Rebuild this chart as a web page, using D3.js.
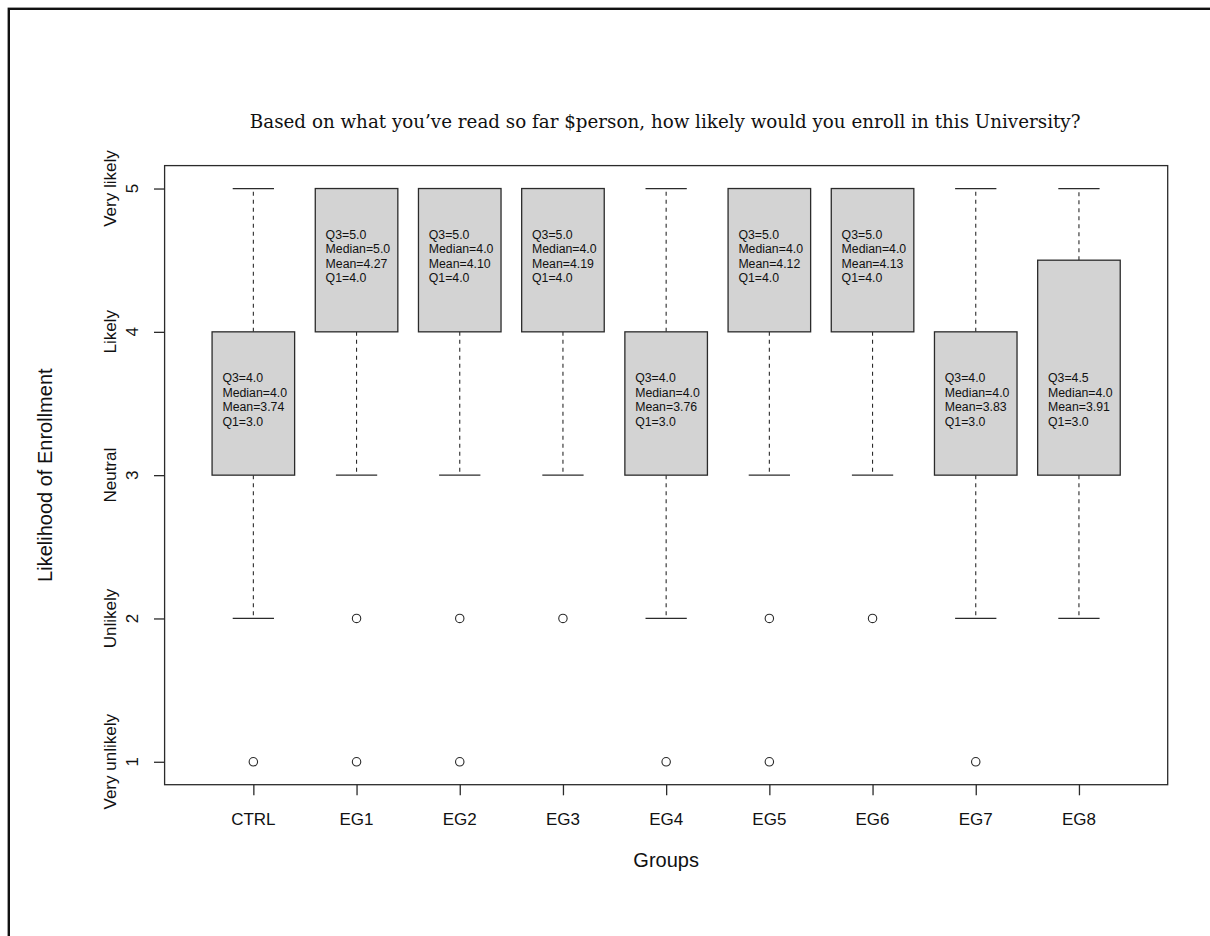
<!DOCTYPE html>
<html>
<head>
<meta charset="utf-8">
<script src="https://cdn.jsdelivr.net/npm/d3@7"></script>
<style>
  html, body { margin: 0; padding: 0; background: #fff; }
  svg { display: block; }
  .sans { font-family: "Liberation Sans", Arial, Helvetica, sans-serif; fill: #111; }
</style>
</head>
<body>
<svg id="chart" width="1210" height="936"></svg>
<script>
// Enrollment likelihood by group: five-number summaries, means and outliers
const groups       = ["CTRL", "EG1", "EG2", "EG3", "EG4", "EG5", "EG6", "EG7", "EG8"];
const whiskerLow   = [2, 3, 3, 3, 2, 3, 3, 2, 2];
const q1           = [3, 4, 4, 4, 3, 4, 4, 3, 3];
const medians      = [4, 5, 4, 4, 4, 4, 4, 4, 4];
const q3           = [4, 5, 5, 5, 4, 5, 5, 4, 4.5];
const whiskerHigh  = [5, 5, 5, 5, 5, 5, 5, 5, 5];
const means        = [3.74, 4.27, 4.10, 4.19, 3.76, 4.12, 4.13, 3.83, 3.91];
const outliers     = [[1], [2, 1], [2, 1], [2], [1], [2, 1], [2], [1], []];

const yTickValues  = [1, 2, 3, 4, 5];
const yTickNames   = ["Very unlikely", "Unlikely", "Neutral", "Likely", "Very likely"];

const titleText = "Based on what you\u2019ve read so far $person, how likely would you enroll in this University?";
const xTitle = "Groups";
const yTitle = "Likelihood of Enrollment";

const svg = d3.select("#chart");

// Plot region (box-plot style limits padded by 4%)
const plot = { left: 164.6, right: 1167.7, top: 165.6, bottom: 784.7 };
const n = groups.length;
const xPad = (n + 0.5 - 0.5) * 0.04;
const x = d3.scaleLinear()
  .domain([0.5 - xPad, n + 0.5 + xPad])
  .range([plot.left, plot.right]);
const y = d3.scaleLinear()
  .domain([1 - 0.16, 5 + 0.16])
  .range([plot.bottom, plot.top]);

const unit = x(2) - x(1);
const boxHalf = unit * 0.4;
const stapleHalf = boxHalf * 0.5;
const lineColor = "#2b2b2b";

// Outer frame of the figure
svg.append("rect")
  .attr("x", 8.8).attr("y", 8.8)
  .attr("width", 1400).attr("height", 1200)
  .attr("fill", "none").attr("stroke", "#111").attr("stroke-width", 2.4);

const data = groups.map((g, i) => ({
  name: g, pos: i + 1,
  lo: whiskerLow[i], q1: q1[i], med: medians[i], q3: q3[i], hi: whiskerHigh[i],
  mean: means[i], out: outliers[i]
}));

const g = svg.append("g");

// Whiskers (dashed) and staples
const wg = g.selectAll("g.whisk").data(data).enter().append("g").attr("class", "whisk");
wg.append("line")
  .attr("x1", d => x(d.pos)).attr("x2", d => x(d.pos))
  .attr("y1", d => y(d.q3)).attr("y2", d => y(d.hi))
  .attr("stroke", lineColor).attr("stroke-width", 1.1).attr("stroke-dasharray", "4,4");
wg.append("line")
  .attr("x1", d => x(d.pos)).attr("x2", d => x(d.pos))
  .attr("y1", d => y(d.q1)).attr("y2", d => y(d.lo))
  .attr("stroke", lineColor).attr("stroke-width", 1.1).attr("stroke-dasharray", "4,4");
wg.append("line")
  .attr("x1", d => x(d.pos) - stapleHalf).attr("x2", d => x(d.pos) + stapleHalf)
  .attr("y1", d => y(d.hi)).attr("y2", d => y(d.hi))
  .attr("stroke", lineColor).attr("stroke-width", 1.3);
wg.append("line")
  .attr("x1", d => x(d.pos) - stapleHalf).attr("x2", d => x(d.pos) + stapleHalf)
  .attr("y1", d => y(d.lo)).attr("y2", d => y(d.lo))
  .attr("stroke", lineColor).attr("stroke-width", 1.3);

// Boxes (Q1 to Q3)
g.selectAll("rect.box").data(data).enter().append("rect")
  .attr("class", "box")
  .attr("x", d => x(d.pos) - boxHalf)
  .attr("width", boxHalf * 2)
  .attr("y", d => y(d.q3))
  .attr("height", d => y(d.q1) - y(d.q3))
  .attr("fill", "#d3d3d3")
  .attr("stroke", lineColor).attr("stroke-width", 1.3);

// Outlier points
data.forEach(d => {
  g.selectAll(null).data(d.out).enter().append("circle")
    .attr("cx", x(d.pos)).attr("cy", v => y(v)).attr("r", 4.2)
    .attr("fill", "none").attr("stroke", lineColor).attr("stroke-width", 1.1);
});

// Summary text inside each box, centred half a unit above Q1
const lineGap = 14.4;
data.forEach(d => {
  const lines = [
    `Q3=${d.q3.toFixed(1)}`,
    `Median=${d.med.toFixed(1)}`,
    `Mean=${d.mean.toFixed(2)}`,
    `Q1=${d.q1.toFixed(1)}`
  ];
  const cy = y(d.q1 + 0.5);
  const t = g.append("text").attr("class", "sans")
    .attr("x", x(d.pos - 0.3)).attr("font-size", 12.3);
  lines.forEach((s, k) => {
    t.append("tspan").attr("x", x(d.pos - 0.3))
      .attr("y", cy + 0.5 + (k - 1.5) * lineGap).text(s);
  });
});

// Plot frame
svg.append("rect")
  .attr("x", plot.left).attr("y", plot.top)
  .attr("width", plot.right - plot.left).attr("height", plot.bottom - plot.top)
  .attr("fill", "none").attr("stroke", lineColor).attr("stroke-width", 1.3);

// Axes: ticks from D3 axes, labels drawn separately
const tick = 10.6;
const xAxis = svg.append("g")
  .attr("transform", `translate(0,${plot.bottom})`)
  .call(d3.axisBottom(x).tickValues(data.map(d => d.pos)).tickSize(tick).tickFormat(""));
const yAxis = svg.append("g")
  .attr("transform", `translate(${plot.left},0)`)
  .call(d3.axisLeft(y).tickValues(yTickValues).tickSize(tick).tickFormat(""));
[xAxis, yAxis].forEach(a => {
  a.select(".domain").remove();
  a.selectAll(".tick line").attr("stroke", lineColor).attr("stroke-width", 1.3);
});

// X tick labels
svg.selectAll("text.xlab").data(data).enter().append("text")
  .attr("class", "sans xlab")
  .attr("x", d => x(d.pos)).attr("y", 825)
  .attr("text-anchor", "middle").attr("font-size", 17)
  .text(d => d.name);

// Y tick labels: name on the first line, value on the second
yTickValues.forEach((v, i) => {
  svg.append("text").attr("class", "sans")
    .attr("transform", `translate(115.5,${y(v)}) rotate(-90)`)
    .attr("text-anchor", "middle").attr("font-size", 17)
    .text(yTickNames[i]);
  svg.append("text").attr("class", "sans")
    .attr("transform", `translate(138.3,${y(v)}) rotate(-90)`)
    .attr("text-anchor", "middle").attr("font-size", 17)
    .text(String(v));
});

// Axis titles
svg.append("text").attr("class", "sans")
  .attr("x", (plot.left + plot.right) / 2).attr("y", 867)
  .attr("text-anchor", "middle").attr("font-size", 20)
  .text(xTitle);
svg.append("text").attr("class", "sans")
  .attr("transform", `translate(51.7,${(plot.top + plot.bottom) / 2}) rotate(-90)`)
  .attr("text-anchor", "middle").attr("font-size", 20)
  .text(yTitle);

// Main title
svg.append("text")
  .attr("x", (plot.left + plot.right) / 2 - 1).attr("y", 128.3)
  .attr("text-anchor", "middle")
  .attr("font-family", "'DejaVu Serif', 'Liberation Serif', Georgia, serif")
  .attr("font-size", 18.3)
  .attr("fill", "#111")
  .text(titleText);
</script>
</body>
</html>
